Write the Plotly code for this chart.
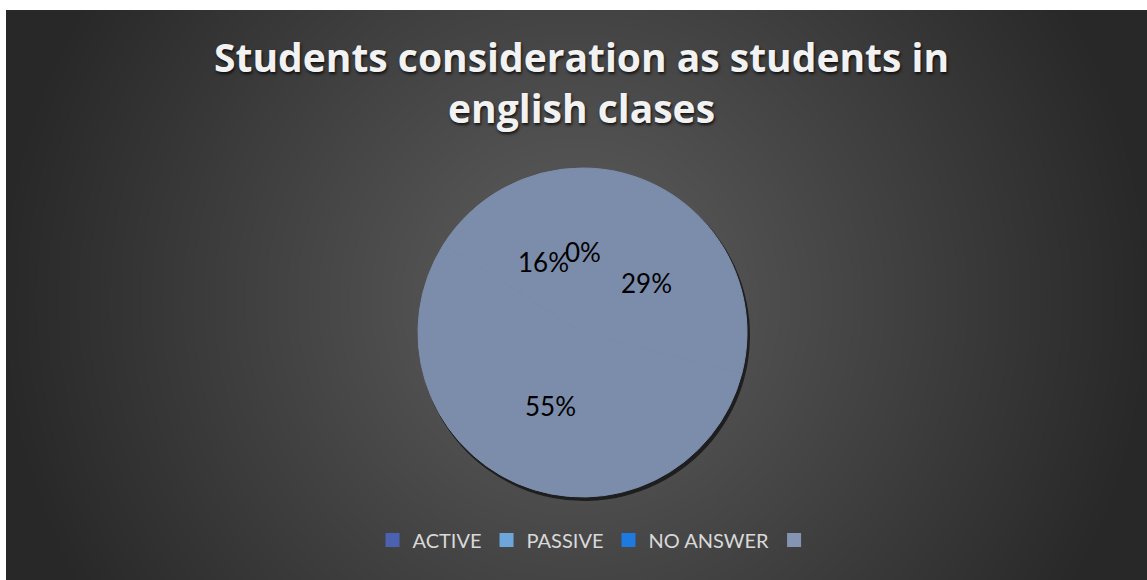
import base64
import struct
import zlib

import numpy as np
import plotly.graph_objects as go

# Survey answers (percent of students)
categories = ["ACTIVE", "PASSIVE", "NO ANSWER", " "]
percent = [29, 55, 16, 0]
legend_colors = ["#4a62b0", "#6ea6dc", "#1e7ae0", "#8494b2"]

title_text = "Students consideration as students in<br>english clases"

FIG_W, FIG_H = 1147, 580
PANEL_X0, PANEL_Y0 = 6, 10          # chart panel offset inside the white frame
PIE_CX, PIE_CY, PIE_R = 582.5, 332.5, 164.5   # pie placement in pixels
SLICE_COLOR = "#7c8dab"


def panel_png(w, h):
    """Dark radial gradient used as the chart panel background."""
    yy, xx = np.mgrid[0:h, 0:w].astype(float)
    cx, cy = 575 - PANEL_X0, 300 - PANEL_Y0
    d = np.hypot(xx - cx, yy - cy)
    t = np.clip((d - 100) / 480, 0, 1)
    v = (86 - 46 * t).astype(np.uint8)
    img = np.stack([v, v, v], axis=-1)
    raw = b"".join(b"\x00" + row.tobytes() for row in img)

    def chunk(tag, data):
        c = struct.pack(">I", len(data)) + tag + data
        return c + struct.pack(">I", zlib.crc32(tag + data) & 0xFFFFFFFF)

    png = b"\x89PNG\r\n\x1a\n"
    png += chunk(b"IHDR", struct.pack(">IIBBBBB", w, h, 8, 2, 0, 0, 0))
    png += chunk(b"IDAT", zlib.compress(raw, 9))
    png += chunk(b"IEND", b"")
    return "data:image/png;base64," + base64.b64encode(png).decode()


def domain(cx, cy, r):
    return dict(x=[(cx - r) / FIG_W, (cx + r) / FIG_W],
                y=[1 - (cy + r) / FIG_H, 1 - (cy - r) / FIG_H])


fig = go.Figure()

# soft drop shadow under the pie
fig.add_trace(go.Pie(
    labels=categories, values=percent, sort=False, direction="clockwise",
    domain=domain(PIE_CX + 2, PIE_CY + 3, PIE_R + 1),
    marker=dict(colors=["rgba(0,0,0,0.6)"] * len(percent),
                line=dict(width=0)),
    textinfo="none", hoverinfo="skip", showlegend=False,
))

# the pie itself: every slice shares one fill
fig.add_trace(go.Pie(
    labels=categories, values=percent, sort=False, direction="clockwise",
    domain=domain(PIE_CX, PIE_CY, PIE_R),
    marker=dict(colors=[SLICE_COLOR] * len(percent),
                line=dict(color=SLICE_COLOR, width=1)),
    textinfo="none", showlegend=False,
))

# legend entries with their own swatch colours
for name, col in zip(categories, legend_colors):
    fig.add_trace(go.Scatter(
        x=[None], y=[None], mode="markers", name=name,
        marker=dict(symbol="square", size=14, color=col),
        hoverinfo="skip",
    ))

# percentage labels at the middle of each slice
total = sum(percent)
start = 0.0
annotations = []
for v in percent:
    mid = np.deg2rad((start + v / 2) / total * 360)
    start += v
    px = PIE_CX + 0.49 * PIE_R * np.sin(mid)
    py = PIE_CY - 0.49 * PIE_R * np.cos(mid)
    annotations.append(dict(
        x=float(px / FIG_W), y=float(1 - py / FIG_H),
        xref="paper", yref="paper", xanchor="center", yanchor="middle",
        text=f"{v}%", showarrow=False,
        font=dict(family="Lato", size=26, color="#000000"),
    ))

annotations.append(dict(
    x=581 / FIG_W, y=1 - 28 / FIG_H, xref="paper", yref="paper",
    xanchor="center", yanchor="top", text=title_text, showarrow=False,
    font=dict(family="Open Sans", size=39, color="#f2f2f2", weight="bold",
              shadow="1px 2px 3px rgba(0,0,0,0.75)"),
))

fig.update_layout(
    width=FIG_W, height=FIG_H,
    margin=dict(l=0, r=0, t=0, b=0),
    paper_bgcolor="#ffffff", plot_bgcolor="rgba(0,0,0,0)",
    xaxis=dict(visible=False, range=[0, 1]),
    yaxis=dict(visible=False, range=[0, 1]),
    showlegend=True,
    legend=dict(
        orientation="h", x=0.5 + 25 / FIG_W, xanchor="center",
        y=1 - 540 / FIG_H, yanchor="middle",
        font=dict(family="Lato", size=20, color="#d9d9d9"),
        bgcolor="rgba(0,0,0,0)", itemclick=False, itemdoubleclick=False,
    ),
    annotations=annotations,
    images=[dict(
        source=panel_png(FIG_W - PANEL_X0, FIG_H - PANEL_Y0),
        xref="paper", yref="paper",
        x=PANEL_X0 / FIG_W, y=1 - PANEL_Y0 / FIG_H,
        sizex=(FIG_W - PANEL_X0) / FIG_W, sizey=(FIG_H - PANEL_Y0) / FIG_H,
        xanchor="left", yanchor="top", sizing="stretch", layer="below",
    )],
    hovermode=False,
)

fig.write_html("out.html", config={"displayModeBar": False})
